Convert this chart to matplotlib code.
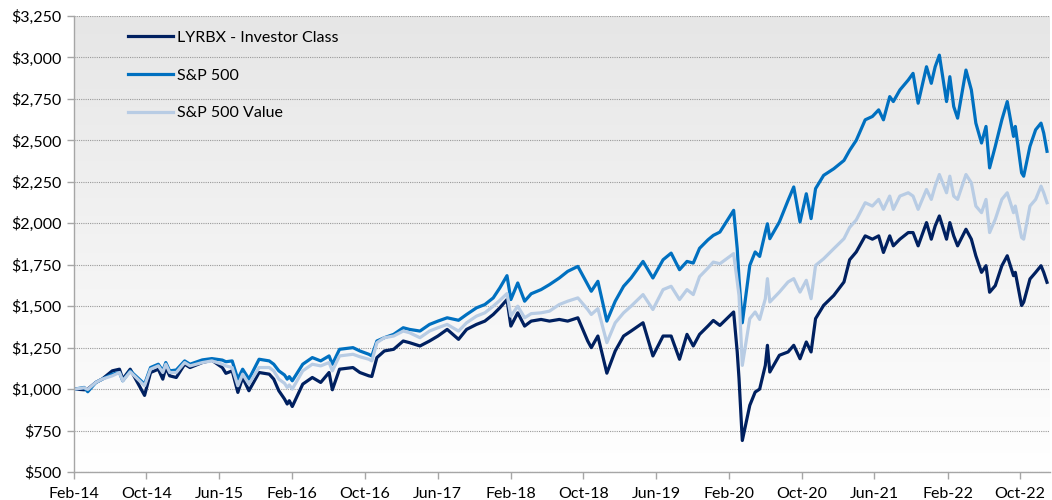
import numpy as np
import pandas as pd
import matplotlib
matplotlib.use('Agg')
import matplotlib.pyplot as plt
from matplotlib.colors import LinearSegmentedColormap
from matplotlib.ticker import FuncFormatter

# growth of $1,000
dates = [
    '2014-02-04', '2014-03-07', '2014-03-19', '2014-04-15', '2014-05-06', '2014-06-09',
    '2014-07-03', '2014-07-14', '2014-08-08', '2014-09-25', '2014-10-15', '2014-11-10',
    '2014-11-25', '2014-12-05', '2014-12-18', '2015-01-09', '2015-02-06', '2015-02-24',
    '2015-04-06', '2015-05-08', '2015-06-12', '2015-06-24', '2015-07-15', '2015-08-03',
    '2015-08-19', '2015-09-09', '2015-10-13', '2015-11-16', '2015-12-01', '2015-12-18',
    '2016-01-06', '2016-01-15', '2016-01-22', '2016-02-01', '2016-03-07', '2016-04-08',
    '2016-05-06', '2016-06-03', '2016-06-14', '2016-07-08', '2016-08-22', '2016-09-14',
    '2016-10-14', '2016-10-24', '2016-11-10', '2016-12-05', '2017-01-05', '2017-02-06',
    '2017-02-27', '2017-04-03', '2017-05-05', '2017-06-02', '2017-07-03', '2017-08-10',
    '2017-09-06', '2017-10-09', '2017-11-06', '2017-12-04', '2017-12-26', '2018-01-19',
    '2018-02-01', '2018-02-24', '2018-03-19', '2018-04-10', '2018-05-13', '2018-06-10',
    '2018-07-13', '2018-08-10', '2018-09-13', '2018-10-16', '2018-10-28', '2018-11-19',
    '2018-12-19', '2019-01-16', '2019-02-13', '2019-03-10', '2019-04-19', '2019-05-22',
    '2019-06-25', '2019-07-22', '2019-08-19', '2019-09-13', '2019-10-04', '2019-10-25',
    '2019-11-22', '2019-12-10', '2020-01-01', '2020-02-16', '2020-02-28', '2020-03-05',
    '2020-03-16', '2020-04-10', '2020-04-28', '2020-05-13', '2020-06-01', '2020-06-08',
    '2020-06-16', '2020-07-18', '2020-08-16', '2020-09-04', '2020-09-25', '2020-10-16',
    '2020-11-01', '2020-11-16', '2020-12-13', '2021-01-16', '2021-02-19', '2021-03-10',
    '2021-04-01', '2021-05-01', '2021-05-25', '2021-06-15', '2021-07-01', '2021-07-22',
    '2021-08-03', '2021-08-25', '2021-09-22', '2021-10-08', '2021-10-25', '2021-11-22',
    '2021-12-08', '2021-12-21', '2022-01-04', '2022-01-28', '2022-02-08', '2022-02-21',
    '2022-03-06', '2022-04-03', '2022-04-21', '2022-05-06', '2022-05-25', '2022-06-09',
    '2022-06-21', '2022-07-10', '2022-08-01', '2022-08-19', '2022-09-09', '2022-09-15',
    '2022-10-06', '2022-10-13', '2022-11-03', '2022-11-22', '2022-12-10', '2022-12-19',
    '2022-12-30',
]

lyrbx = [
    1000, 996, 1000, 1040, 1060, 1110,
    1120, 1060, 1120, 962, 1100, 1120,
    1060, 1130, 1080, 1070, 1150, 1130,
    1160, 1174, 1130, 1095, 1110, 980,
    1070, 990, 1100, 1090, 1060, 990,
    940, 910, 930, 895, 1030, 1070,
    1040, 1100, 996, 1120, 1130, 1100,
    1080, 1076, 1190, 1230, 1240, 1290,
    1280, 1260, 1290, 1320, 1360, 1300,
    1360, 1390, 1410, 1450, 1490, 1540,
    1380, 1460, 1380, 1410, 1420, 1410,
    1420, 1410, 1430, 1290, 1250, 1320,
    1096, 1230, 1320, 1350, 1400, 1200,
    1320, 1320, 1180, 1330, 1260, 1330,
    1380, 1414, 1384, 1465, 1224, 1063,
    690, 902, 982, 1000, 1143, 1264,
    1103, 1204, 1224, 1264, 1183, 1284,
    1224, 1425, 1505, 1565, 1646, 1780,
    1827, 1924, 1904, 1924, 1824, 1924,
    1864, 1904, 1944, 1944, 1864, 2004,
    1904, 1984, 2044, 1904, 2004, 1924,
    1864, 1964, 1904, 1804, 1704, 1744,
    1584, 1624, 1744, 1804, 1684, 1704,
    1504, 1524, 1664, 1704, 1744, 1704,
    1644,
]

sp500 = [
    1000, 1010, 984, 1040, 1060, 1090,
    1100, 1050, 1110, 1030, 1130, 1150,
    1110, 1160, 1110, 1115, 1170, 1150,
    1176, 1184, 1175, 1165, 1170, 1060,
    1120, 1060, 1180, 1170, 1150, 1110,
    1085, 1060, 1075, 1050, 1150, 1190,
    1170, 1200, 1150, 1240, 1250, 1230,
    1210, 1200, 1290, 1310, 1330, 1370,
    1360, 1350, 1390, 1410, 1430, 1415,
    1450, 1490, 1510, 1550, 1610, 1684,
    1540, 1640, 1530, 1575, 1600, 1630,
    1670, 1710, 1740, 1630, 1590, 1650,
    1410, 1530, 1620, 1670, 1770, 1670,
    1780, 1820, 1720, 1770, 1760, 1849,
    1900, 1927, 1947, 2078, 1847, 1666,
    1400, 1746, 1827, 1800, 1947, 1997,
    1907, 2008, 2138, 2219, 2008, 2178,
    2028, 2209, 2289, 2329, 2379, 2440,
    2500, 2624, 2644, 2684, 2624, 2764,
    2734, 2804, 2864, 2904, 2724, 2944,
    2844, 2944, 3014, 2734, 2884, 2704,
    2634, 2924, 2804, 2604, 2484, 2584,
    2334, 2464, 2624, 2734, 2524, 2584,
    2304, 2284, 2464, 2564, 2604, 2544,
    2434,
]

sp500_value = [
    1000, 1008, 998, 1040, 1060, 1080,
    1100, 1050, 1104, 1020, 1120, 1140,
    1100, 1150, 1100, 1100, 1160, 1140,
    1160, 1170, 1150, 1140, 1130, 1020,
    1090, 1030, 1130, 1130, 1110, 1060,
    1035, 1010, 1025, 1000, 1110, 1150,
    1140, 1160, 1110, 1200, 1210, 1195,
    1180, 1170, 1280, 1310, 1320, 1350,
    1340, 1310, 1350, 1370, 1390, 1350,
    1400, 1440, 1460, 1500, 1535, 1576,
    1440, 1500, 1430, 1455, 1460, 1470,
    1510, 1530, 1550, 1480, 1450, 1485,
    1280, 1400, 1460, 1500, 1570, 1480,
    1600, 1620, 1540, 1600, 1570, 1678,
    1730, 1766, 1756, 1817, 1650, 1565,
    1143, 1425, 1465, 1420, 1545, 1666,
    1525, 1585, 1646, 1666, 1585, 1656,
    1545, 1746, 1786, 1847, 1907, 1975,
    2020, 2124, 2104, 2144, 2084, 2164,
    2084, 2164, 2184, 2164, 2084, 2204,
    2144, 2224, 2294, 2184, 2284, 2164,
    2144, 2294, 2244, 2104, 2064, 2144,
    1944, 2024, 2144, 2184, 2064, 2104,
    1914, 1904, 2104, 2144, 2224, 2184,
    2124,
]

series_names = ['LYRBX - Investor Class', 'S&P 500', 'S&P 500 Value']
tick_labels = ['Feb-14', 'Oct-14', 'Jun-15', 'Feb-16', 'Oct-16', 'Jun-17', 'Feb-18',
               'Oct-18', 'Jun-19', 'Feb-20', 'Oct-20', 'Jun-21', 'Feb-22', 'Oct-22']
y_ticks = list(range(500, 3251, 250))

x = pd.to_datetime(dates)
tick_pos = pd.to_datetime(tick_labels, format='%b-%y')

plt.rcParams['font.family'] = ['Lato', 'DejaVu Sans']

fig = plt.figure(figsize=(10.52, 5.0), dpi=100)
rect = [74 / 1052, 28 / 500, 976 / 1052, 456 / 500]

# grey-to-white gradient behind the plot
bg = fig.add_axes(rect, zorder=0)
cmap = LinearSegmentedColormap.from_list('bg', ['#E6E6E6', '#FFFFFF'])
bg.imshow(np.linspace(0, 1, 256).reshape(-1, 1), aspect='auto', cmap=cmap,
          extent=(0, 1, 0, 1))
bg.axis('off')

ax = fig.add_axes(rect, zorder=1)
ax.patch.set_alpha(0)

ax.plot(x, lyrbx, color='#002060', lw=2.3, label=series_names[0])
ax.plot(x, sp500, color='#0070C0', lw=2.3, label=series_names[1])
ax.plot(x, sp500_value, color='#B8CCE4', lw=2.3, label=series_names[2])

ax.set_xlim(pd.Timestamp('2014-02-01'), pd.Timestamp('2023-01-09'))
ax.set_ylim(500, 3250)
ax.set_yticks(y_ticks)
ax.yaxis.set_major_formatter(FuncFormatter(lambda v, p: '${:,.0f}'.format(v)))
ax.set_xticks(tick_pos)
ax.set_xticklabels(tick_labels)

ax.yaxis.grid(True, color='#9A9A9A', linestyle=(0, (1, 1)), linewidth=0.8)
ax.set_axisbelow(True)
for s in ['top', 'right']:
    ax.spines[s].set_visible(False)
for s in ['left', 'bottom']:
    ax.spines[s].set_color('#A6A6A6')
    ax.spines[s].set_linewidth(1.0)
ax.tick_params(axis='both', colors='#A6A6A6', labelcolor='black', labelsize=11.5,
               length=5, width=1.0)
ax.tick_params(axis='x', pad=6)
ax.tick_params(axis='y', pad=4)

ax.legend(loc='upper left', bbox_to_anchor=(0.0553, 0.9675), frameon=False,
          borderpad=0, borderaxespad=0, handlelength=2.8, handletextpad=0.25,
          labelspacing=1.47, fontsize=11.5)

fig.savefig('out.png', dpi=100)
